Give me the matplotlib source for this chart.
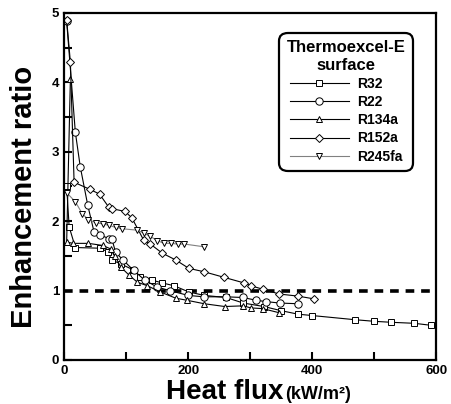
import matplotlib.pyplot as plt
from matplotlib.ticker import MultipleLocator

plt.rcParams['font.family'] = ['Liberation Sans', 'DejaVu Sans']

# R32 (squares)
r32_x = [4, 8, 18, 58, 70, 77, 92, 111, 123, 142, 158, 177, 201, 226, 261, 289, 322, 350,
         377, 400, 469, 500, 527, 565, 591]
r32_y = [2.5, 1.92, 1.62, 1.61, 1.56, 1.44, 1.38, 1.3, 1.2, 1.15, 1.11, 1.07, 0.98, 0.93,
         0.9, 0.82, 0.77, 0.71, 0.66, 0.64, 0.58, 0.557, 0.543, 0.528, 0.5]

# R22 (circles)
r22_x = [4, 18, 26, 38, 48, 58, 72, 77, 83, 95, 112, 130, 150, 170, 200, 225, 261, 288,
         310, 326, 348, 377]
r22_y = [4.88, 3.28, 2.78, 2.23, 1.85, 1.8, 1.75, 1.74, 1.55, 1.44, 1.29, 1.15, 1.05, 1.0,
         0.93, 0.91, 0.91, 0.9, 0.86, 0.84, 0.82, 0.81]

# R134a (up triangles)
r134_x = [10, 4, 14, 39, 62, 75, 82, 91, 105, 118, 134, 155, 180, 198, 226, 259, 289,
          301, 320, 347]
r134_y = [4.05, 1.7, 1.68, 1.68, 1.65, 1.6, 1.5, 1.34, 1.22, 1.12, 1.07, 0.98, 0.89, 0.86,
          0.81, 0.77, 0.78, 0.75, 0.74, 0.68]

# R152a (diamonds)
r152_x = [4, 10, 16, 41, 57, 72, 77, 98, 109, 128, 139, 158, 180, 201, 226, 258, 290,
          301, 320, 347, 377, 403]
r152_y = [4.9, 4.29, 2.56, 2.46, 2.39, 2.2, 2.18, 2.14, 2.05, 1.73, 1.67, 1.54, 1.44, 1.32,
          1.27, 1.19, 1.11, 1.07, 1.02, 0.95, 0.92, 0.88]

# R245fa (down triangles)
r245_x = [5, 18, 29, 39, 51, 62, 72, 83, 94, 118, 128, 139, 150, 161, 172, 183, 194, 226]
r245_y = [2.4, 2.28, 2.11, 2.02, 1.98, 1.96, 1.94, 1.91, 1.89, 1.87, 1.83, 1.78, 1.72,
          1.68, 1.68, 1.67, 1.67, 1.63]

series = [
    ('R32', r32_x, r32_y, 's', 'black'),
    ('R22', r22_x, r22_y, 'o', 'black'),
    ('R134a', r134_x, r134_y, '^', 'black'),
    ('R152a', r152_x, r152_y, 'D', 'black'),
    ('R245fa', r245_x, r245_y, 'v', '#808080'),
]
sizes = {'s': 4.3, 'o': 5.3, '^': 5, 'D': 4, 'v': 5}

fig = plt.figure(figsize=(4.52, 4.04), dpi=100)
ax = fig.add_axes([0.142, 0.109, 0.823, 0.859])

for name, xs, ys, m, c in series:
    ax.plot(xs, ys, color=c, lw=0.8, marker=m, markersize=sizes[m],
            markerfacecolor='white', markeredgecolor='black', markeredgewidth=0.7,
            label=name)

ax.axhline(1.0, color='black', lw=2.6, ls=(0, (2.4, 1.9)), zorder=1)

ax.set_xlim(0, 600)
ax.set_ylim(0, 5)
ax.xaxis.set_major_locator(MultipleLocator(200))
ax.xaxis.set_minor_locator(MultipleLocator(100))
ax.yaxis.set_major_locator(MultipleLocator(1))
ax.yaxis.set_minor_locator(MultipleLocator(0.5))
ax.tick_params(which='both', direction='in', width=1.5, labelsize=9.5)
ax.tick_params(which='major', length=6)
ax.tick_params(which='minor', length=6)
for lab in ax.get_xticklabels() + ax.get_yticklabels():
    lab.set_fontweight('bold')
for sp in ax.spines.values():
    sp.set_linewidth(1.6)

ax.set_ylabel('Enhancement ratio', fontsize=21, fontweight='bold')
ax.yaxis.set_label_coords(-0.07, 0.47)
fig.text(0.628, 0.013, 'Heat flux', fontsize=20, fontweight='bold', ha='right',
         va='baseline')
fig.text(0.630, 0.013, '(kW/m²)', fontsize=13, fontweight='bold', ha='left',
         va='baseline')

leg = ax.legend(loc='upper right', bbox_to_anchor=(0.95, 0.955),
                title='Thermoexcel-E\nsurface', fancybox=True, framealpha=1,
                edgecolor='black', handlelength=4.2, handletextpad=0.6,
                labelspacing=0.3, borderpad=0.35, fontsize=10,
                title_fontproperties={'weight': 'bold', 'size': 12})
leg.get_frame().set_linewidth(1.6)
leg.get_frame().set_boxstyle('round,pad=0.2,rounding_size=0.6')
for t in leg.get_texts():
    t.set_fontweight('bold')
leg.get_title().set_multialignment('center')

fig.savefig('out.png', dpi=100)
